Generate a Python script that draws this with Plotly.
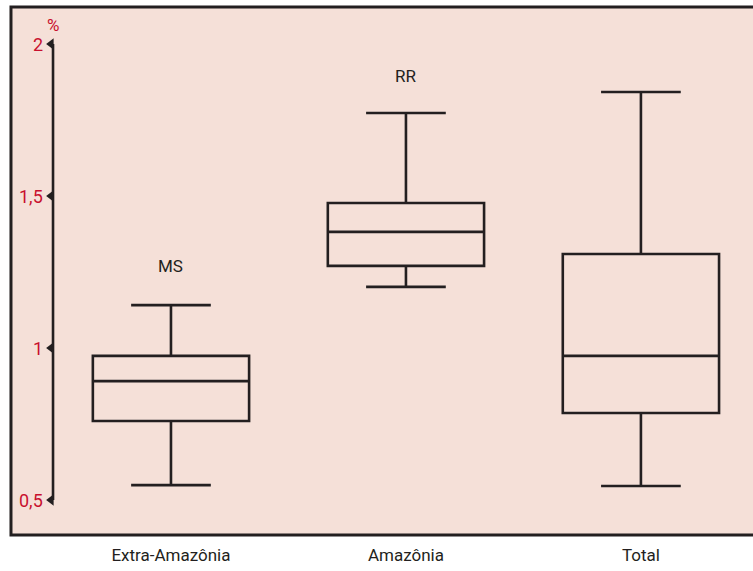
import plotly.graph_objects as go

# Box-plot summaries (%) per region
categories = ["Extra-Amazônia", "Amazônia", "Total"]
lower = [0.549, 1.201, 0.546]
q1 = [0.760, 1.270, 0.786]
median = [0.891, 1.382, 0.974]
q3 = [0.974, 1.477, 1.309]
upper = [1.141, 1.773, 1.842]

# State labels written above two of the boxes
state_labels = ["MS", "RR"]
state_pos = [(0, 1.270), (1, 1.895)]

y_ticks = [0.5, 1, 1.5, 2]
y_ticktext = ["0,5", "1", "1,5", "2"]

INK = "#231f20"
RED = "#c8102e"
PANEL = "#f5e0d8"
FONT = "Roboto, sans-serif"

AXIS_X = -0.502  # data position of the drawn y axis

x_pos = list(range(len(categories)))

fig = go.Figure()
fig.add_trace(go.Box(
    x=x_pos, q1=q1, median=median, q3=q3,
    lowerfence=lower, upperfence=upper,
    boxpoints=False, width=0.665, whiskerwidth=0.51,
    line=dict(color=INK, width=2.6), fillcolor="rgba(0,0,0,0)",
    hoverinfo="skip", showlegend=False,
))

# Left-pointing tick markers on the y axis
fig.add_trace(go.Scatter(
    x=[AXIS_X - 0.008] * len(y_ticks), y=y_ticks, mode="markers",
    marker=dict(symbol="triangle-left", size=10, color=INK, line=dict(width=0)),
    cliponaxis=False, hoverinfo="skip", showlegend=False,
))

shapes = [
    # panel background with dark frame
    dict(type="rect", xref="paper", yref="paper", x0=-0.0407, x1=1.02, y0=0, y1=1,
         fillcolor=PANEL, line=dict(color=INK, width=3), layer="below"),
    # y axis line spanning the labelled range
    dict(type="line", xref="x", yref="y", x0=AXIS_X, x1=AXIS_X, y0=0.5, y1=2,
         line=dict(color=INK, width=2.6)),
]

annotations = []
for v, t in zip(y_ticks, y_ticktext):
    annotations.append(dict(xref="x", yref="y", x=AXIS_X - 0.034, y=v, text=t,
                            showarrow=False, xanchor="right", yanchor="middle",
                            font=dict(color=RED, size=18, family=FONT)))
annotations.append(dict(xref="x", yref="y", x=AXIS_X, y=2.063, text="%",
                        showarrow=False, xanchor="center", yanchor="middle",
                        font=dict(color=RED, size=17, family=FONT)))
for (px, py), t in zip(state_pos, state_labels):
    annotations.append(dict(x=px, y=py, text=t, showarrow=False,
                            font=dict(color=INK, size=17, family=FONT)))

fig.update_layout(
    width=753, height=571, autosize=False,
    margin=dict(l=40, r=0, t=7, b=36),
    paper_bgcolor="white", plot_bgcolor="rgba(0,0,0,0)",
    shapes=shapes, annotations=annotations,
    xaxis=dict(range=[-0.5574, 2.477], tickvals=x_pos, ticktext=categories,
               showgrid=False, zeroline=False, showline=False, ticks="",
               tickfont=dict(color=INK, size=17, family=FONT),
               ticklabelstandoff=8, fixedrange=True),
    yaxis=dict(range=[0.3849, 2.1217], showticklabels=False, showgrid=False,
               zeroline=False, showline=False, ticks="", fixedrange=True),
)

fig.write_html("out.html")
